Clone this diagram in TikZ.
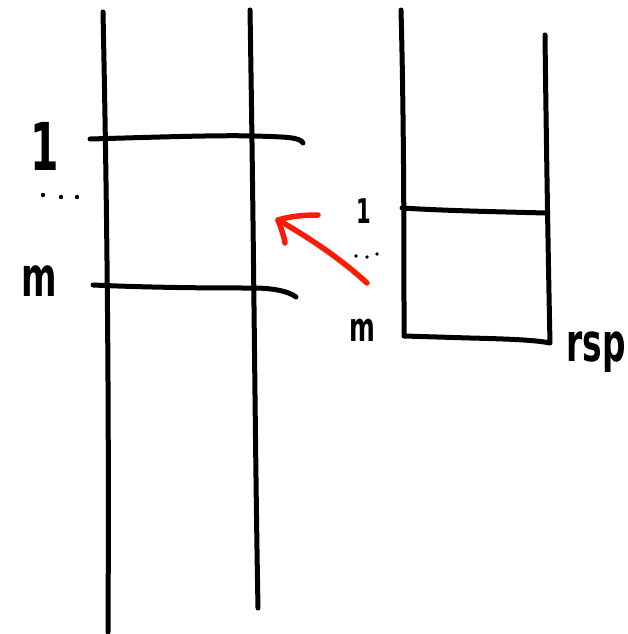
\documentclass[tikz,border=0pt]{standalone}
\usepackage{fontspec}
\setmainfont{DejaVu Sans}
\definecolor{penred}{RGB}{250,28,8}
\tikzset{
  pen/.style={line width=5pt, line cap=round, line join=round, black},
  redpen/.style={line width=5.5pt, line cap=round, line join=round, penred},
  hand/.style={inner sep=0pt, anchor=center},
}
\newcommand{\narrow}[1]{\scalebox{0.62}[1]{#1}}
\begin{document}
\begin{tikzpicture}[x=1pt,y=-1pt]
  \useasboundingbox (0,0) rectangle (627,634);

  % large frame: two long rails and two slot lines
  \draw[pen] (103,12) .. controls (108,250) and (109,450) .. (108,632);
  \draw[pen] (250,10) .. controls (254,250) and (255,450) .. (258,608);
  \draw[pen] (90,139) .. controls (160,137) and (220,135) .. (255,136)
                      .. controls (285,137) and (300,137) .. (303,143);
  \draw[pen] (93,285) .. controls (160,288) and (220,288) .. (253,288)
                      .. controls (275,288) and (290,292) .. (296,297);

  % small stack box
  \draw[pen] (401,10) .. controls (404,120) and (404,250) .. (404,336)
             -- (470,338) .. controls (510,339) and (535,340) .. (550,343)
             .. controls (548,250) and (546,120) .. (545,35);
  \draw[pen] (402,208) .. controls (450,211) and (510,212) .. (545,213);

  % labels of the large frame
  \node[hand, font=\fontsize{66}{66}\bfseries] (one1) at (45,146) {\narrow{1}};
  \node[hand, font=\fontsize{55}{55}\bfseries] (m1) at (39,281) {\narrow{m}};
  \fill (43,195) circle (2.2pt) (61,197) circle (2.2pt) (77,197) circle (2.2pt);

  % labels of the small box
  \node[hand, font=\fontsize{34}{34}\bfseries] (one2) at (364,211) {\narrow{1}};
  \node[hand, font=\fontsize{40}{40}\bfseries] (m2) at (362,330) {\narrow{m}};
  \node[hand, font=\fontsize{53}{53}\bfseries] (rsp) at (596,352) {\narrow{rsp}};
  \fill (356,256) circle (1.8pt) (367,257) circle (1.8pt) (377,254) circle (1.8pt);

  % red arrow from the box back into the frame
  \coordinate (tail) at (367,283);
  \coordinate (tip) at (278,220);
  \coordinate (barbA) at (318,215);
  \coordinate (barbB) at (285,243);
  \draw[redpen] (tail) .. controls (340,258) and (305,235) .. (tip);
  \draw[redpen] (barbA) .. controls (300,215) and (288,217) .. (tip)
                .. controls (281,228) and (284,236) .. (barbB);
\end{tikzpicture}
\end{document}
